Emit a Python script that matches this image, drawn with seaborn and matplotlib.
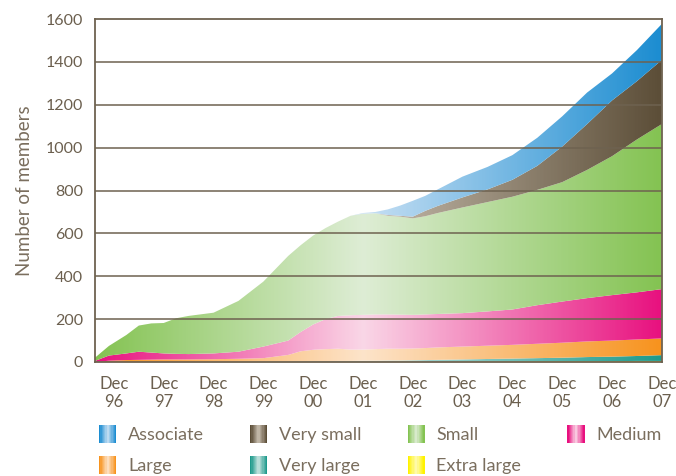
import numpy as np
import matplotlib
matplotlib.use("Agg")
import matplotlib.pyplot as plt
import seaborn as sns
from matplotlib.legend_handler import HandlerBase
from matplotlib.patches import Rectangle, Patch, PathPatch

# years after Dec 1996 (Dec 96 = 0 ... Dec 07 = 11)
t = [-0.38, -0.1, 0.25, 0.5, 0.75, 1.0, 1.25, 1.5, 2.0, 2.5, 3.0, 3.5, 3.75, 4.0, 4.25, 4.5,
     4.75, 5.0, 5.25, 5.5, 5.75, 6.0, 6.25, 6.5, 7.0, 7.5, 8.0, 8.5, 9.0, 9.5, 10.0, 10.5, 11.0]

# members per category (stack order bottom -> top)
extra_large = [0] * 22 + [1, 1, 2, 3, 3, 4, 4, 4, 4, 5, 5]
very_large = [0] * 8 + [1, 1, 2, 2, 3, 4, 4, 5, 5, 6, 6, 7, 7, 8, 8, 9, 10, 11, 13, 14, 16, 19, 21, 23, 27]
large = [0, 6, 9, 10, 11, 12, 12, 12, 12, 14, 16, 31, 47, 53, 56, 57, 53, 52, 54, 55,
         55, 55, 56, 58, 60, 62, 64, 67, 70, 73, 75, 77, 78]
medium = [5, 24, 31, 38, 33, 28, 26, 25, 27, 33, 54, 67, 90, 118, 140, 153, 160, 162, 162, 160,
          159, 157, 157, 156, 156, 160, 165, 180, 192, 202, 212, 220, 230]
small = [15, 45, 86, 122, 136, 142, 166, 178, 190, 237, 303, 395, 405, 415, 425, 440, 464, 472,
         472, 460, 457, 450, 458, 471, 493, 510, 526, 538, 557, 598, 648, 713, 770]
very_small = [0] * 19 + [4, 4, 8, 25, 33, 47, 59, 79, 112, 166, 214, 260, 272, 299]
associate = [0] * 17 + [3, 6, 26, 48, 74, 70, 77, 97, 105, 115, 131, 141, 147, 126, 145, 168]

tick_labels = ["Dec\n96", "Dec\n97", "Dec\n98", "Dec\n99", "Dec\n00", "Dec\n01",
               "Dec\n02", "Dec\n03", "Dec\n04", "Dec\n05", "Dec\n06", "Dec\n07"]

layers = [
    ("Extra large", extra_large, "#FFF200", "#FFFBB5"),
    ("Very large", very_large, "#1E9A8C", "#C4E3DF"),
    ("Large", large, "#F7931E", "#FDE4CA"),
    ("Medium", medium, "#E8117F", "#FAD7E7"),
    ("Small", small, "#84C352", "#DEEDD5"),
    ("Very small", very_small, "#5C4E38", "#C7BDAE"),
    ("Associate", associate, "#1C8DD1", "#C8E0F4"),
]

sns.set_style("white")
plt.rcParams["font.family"] = ["Lato", "DejaVu Sans"]
text_col = "#6B5F4E"
line_col = "#6E6250"

fig = plt.figure(figsize=(6.76, 4.76), dpi=100)
ax = fig.add_axes([0.1405, 0.2395, 0.8385, 0.7205])

x = np.array(t, dtype=float)
x0, x1 = x[0], x[-1]
light_at = 5.0
gx = np.linspace(x0, x1, 400)
gval = np.where(gx < light_at, 0.5 * (gx - x0) / (light_at - x0), 0.5 + 0.5 * (gx - light_at) / (x1 - light_at))

base = np.zeros(len(x))
for name, vals, dark, light in layers:
    top = base + np.array(vals, dtype=float)
    poly = ax.fill_between(x, base, top, facecolor="none", edgecolor="none", linewidth=0)
    cmap = sns.blend_palette([dark, light, dark], n_colors=256, as_cmap=True)
    im = ax.imshow(gval[np.newaxis, :], extent=[x0, x1, 0, 1600], aspect="auto", origin="lower",
                   cmap=cmap, vmin=0, vmax=1, interpolation="bilinear", zorder=1)
    clip = PathPatch(poly.get_paths()[0], transform=ax.transData, facecolor="none", edgecolor="none")
    im.set_clip_path(clip)
    base = top

for yv in range(200, 1600, 200):
    ax.axhline(yv, color=line_col, linewidth=1.1, zorder=3)

ax.set_xlim(x0, x1)
ax.set_ylim(0, 1600)
ax.set_yticks(range(0, 1601, 200))
ax.set_xticks(range(0, 12))
ax.set_xticklabels(tick_labels, linespacing=1.15)
ax.tick_params(axis="y", length=0, pad=8.5, labelsize=11.5, labelcolor=text_col)
ax.tick_params(axis="x", length=4, width=1.1, color=line_col, pad=6, labelsize=12, labelcolor=text_col)
for s in ax.spines.values():
    s.set_color(line_col)
    s.set_linewidth(1.3)
    s.set_zorder(4)
ax.set_ylabel("Number of members", fontsize=13.5, color="#7A6E5E", labelpad=9)


class GradientHandler(HandlerBase):
    def create_artists(self, legend, orig_handle, xdescent, ydescent, width, height, fontsize, trans):
        dark = orig_handle.get_facecolor()
        light = orig_handle.get_edgecolor()
        n = 14
        cols = sns.blend_palette([dark, light, dark], n)
        w = width / n
        return [Rectangle((-xdescent + i * w, -ydescent), w * 1.05, height, facecolor=c,
                          edgecolor="none", linewidth=0, transform=trans) for i, c in enumerate(cols)]


order = ["Associate", "Very small", "Small", "Medium", "Large", "Very large", "Extra large"]
info = {name: (dark, light) for name, _, dark, light in layers}
# ncol=4 fills column-wise, so arrange rows manually
grid = [order[0], order[4], order[1], order[5], order[2], order[6], order[3]]
handles = [Patch(facecolor=info[n][0], edgecolor=info[n][1], label=n) for n in grid]
fig.legend(handles=handles, labels=grid, handler_map={Patch: GradientHandler()}, ncol=4,
           loc="lower left", bbox_to_anchor=(0.136, -0.012), frameon=False, fontsize=13,
           labelcolor="#7A6E5E", handlelength=0.95, handleheight=1.15, handletextpad=0.65,
           columnspacing=2.55, labelspacing=0.72, borderaxespad=0.0)

fig.savefig("out.png", dpi=100)
